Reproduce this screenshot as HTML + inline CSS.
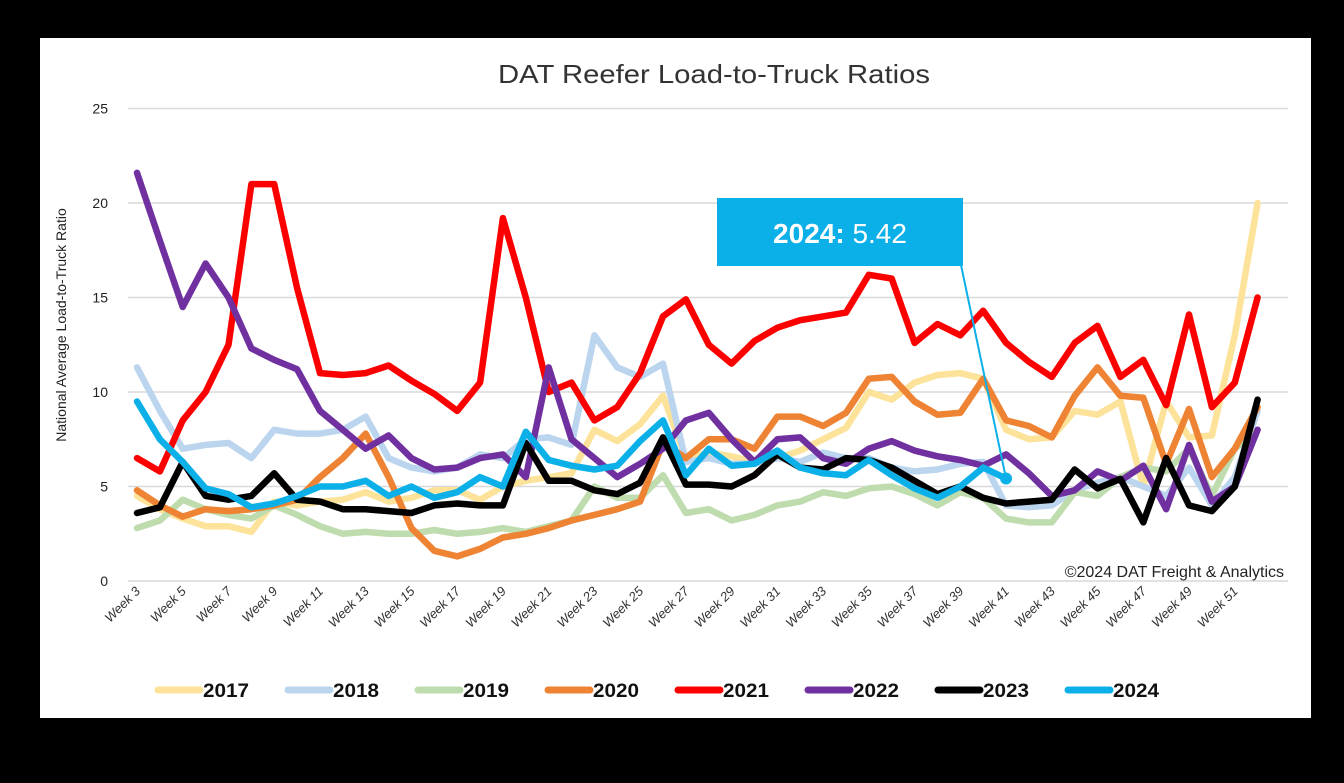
<!DOCTYPE html>
<html><head><meta charset="utf-8"><style>
html,body{margin:0;padding:0;background:#000;}
svg{display:block;}
text{font-family:"Liberation Sans",sans-serif;}
</style></head><body>
<svg id="chart" width="1344" height="783" viewBox="0 0 1344 783">
<rect x="0" y="0" width="1344" height="783" fill="#000"/>
<rect x="40" y="38" width="1271" height="680" fill="#fff"/>
<text x="714" y="83" text-anchor="middle" font-size="26" fill="#333" textLength="432" lengthAdjust="spacingAndGlyphs">DAT Reefer Load-to-Truck Ratios</text>
<g id="grid"></g>
<g id="yticks"></g>
<text transform="translate(66,325) rotate(-90)" text-anchor="middle" font-size="14" fill="#222">National Average Load-to-Truck Ratio</text>
<g id="xticks"></g>
<g id="series"></g>
<text x="1284" y="577" text-anchor="end" font-size="16" fill="#222">©2024 DAT Freight &amp; Analytics</text>
<g id="callout"></g>
<g id="legend"></g>
</svg>
<script>
const weeks = [3,4,5,6,7,8,9,10,11,12,13,14,15,16,17,18,19,20,21,22,23,24,25,26,27,28,29,30,31,32,33,34,35,36,37,38,39,40,41,42,43,44,45,46,47,48,49,50,51,52];
const yTicks = [0,5,10,15,20,25];
const s2017 = [4.5,3.8,3.3,2.9,2.9,2.6,4.2,4.0,4.2,4.3,4.7,4.2,4.4,4.8,4.8,4.3,5.0,5.3,5.5,5.7,8,7.4,8.3,9.8,6.5,6.8,6.6,6.3,6.5,6.9,7.5,8.1,10.0,9.6,10.5,10.9,11.0,10.7,8.0,7.5,7.6,9.0,8.8,9.5,5.0,9.5,7.6,7.7,13,20];
const s2018 = [11.3,9,7.0,7.2,7.3,6.5,8.0,7.8,7.8,8.0,8.7,6.5,6.0,5.8,6.0,6.7,6.5,7.5,7.6,7.2,13,11.3,10.8,11.5,6.3,6.5,6.2,6.2,6.5,6.3,6.8,6.5,6.5,6.0,5.8,5.9,6.2,6.3,4.0,3.9,4.0,4.8,5.2,5.5,5.0,4.5,6.0,4.0,5.5,9.0];
const s2019 = [2.8,3.2,4.3,3.8,3.5,3.3,4.0,3.5,2.9,2.5,2.6,2.5,2.5,2.7,2.5,2.6,2.8,2.6,2.9,3.2,5.0,4.4,4.4,5.6,3.6,3.8,3.2,3.5,4.0,4.2,4.7,4.5,4.9,5.0,4.6,4.0,4.7,4.4,3.3,3.1,3.1,4.7,4.5,5.5,6.0,5.8,7.0,4.5,7.0,8.0];
const s2020 = [4.8,4.0,3.4,3.8,3.7,3.8,4.0,4.3,5.5,6.5,7.8,5.5,2.8,1.6,1.3,1.7,2.3,2.5,2.8,3.2,3.5,3.8,4.2,7.3,6.5,7.5,7.5,7,8.7,8.7,8.2,8.9,10.7,10.8,9.5,8.8,8.9,10.7,8.5,8.2,7.6,9.8,11.3,9.8,9.7,6.2,9.1,5.5,7,9.2];
const s2021 = [6.5,5.8,8.5,10,12.5,21,21,15.5,11,10.9,11,11.4,10.6,9.9,9.0,10.5,19.2,15,10,10.5,8.5,9.2,11,14,14.9,12.5,11.5,12.7,13.4,13.8,14,14.2,16.2,16,12.6,13.6,13,14.3,12.6,11.6,10.8,12.6,13.5,10.8,11.7,9.3,14.1,9.2,10.5,15];
const s2022 = [21.6,18,14.5,16.8,15,12.3,11.7,11.2,9,8,7,7.7,6.5,5.9,6,6.5,6.7,5.5,11.3,7.5,6.5,5.5,6.2,7,8.5,8.9,7.5,6.3,7.5,7.6,6.5,6.2,7,7.4,6.9,6.6,6.4,6.1,6.7,5.7,4.5,4.8,5.8,5.3,6.1,3.8,7.2,4.2,5.0,8.0];
const s2023 = [3.6,3.9,6.3,4.5,4.3,4.5,5.7,4.3,4.2,3.8,3.8,3.7,3.6,4.0,4.1,4.0,4.0,7.3,5.3,5.3,4.8,4.6,5.2,7.6,5.1,5.1,5.0,5.6,6.7,6.0,5.9,6.5,6.4,6.0,5.3,4.6,5.0,4.4,4.1,4.2,4.3,5.9,4.9,5.4,3.1,6.5,4.0,3.7,5.0,9.6];
const s2024 = [9.5,7.5,6.3,4.9,4.6,3.9,4.1,4.5,5.0,5.0,5.3,4.5,5.0,4.4,4.7,5.5,5.0,7.9,6.4,6.1,5.9,6.1,7.4,8.5,5.6,7.0,6.1,6.2,6.9,6.0,5.7,5.6,6.4,5.6,4.9,4.4,5.0,6.0,5.42];
const seriesNames = ["2017","2018","2019","2020","2021","2022","2023","2024"];
const seriesColors = ["#fde29a","#bcd5ee","#bfdcae","#ed8333","#fc0000","#7030a0","#000000","#0cb0e8"];
const seriesData = [s2017,s2018,s2019,s2020,s2021,s2022,s2023,s2024];

const NS="http://www.w3.org/2000/svg";
function xs(w){return 137+(w-3)*22.87;}
function ys(v){return 581-v*18.9;}
function mk(tag,attrs,parent){const e=document.createElementNS(NS,tag);for(const k in attrs)e.setAttribute(k,attrs[k]);parent.appendChild(e);return e;}

const grid=document.getElementById('grid'),yt=document.getElementById('yticks');
yTicks.forEach(t=>{
  const l=mk('line',{x1:128,x2:1288,y1:ys(t),y2:ys(t),stroke:'#d9d9d9','stroke-width':1.5},grid);
  
  
  const tx=mk('text',{x:108,y:ys(t)+5,'text-anchor':'end','font-size':14,fill:'#222'},yt);
  tx.textContent=t;
  
  
});
const xt=document.getElementById('xticks');
weeks.forEach(w=>{
  if(w%2===0)return;
  const x=xs(w)+4,y=592;
  const tx=mk('text',{x:x,y:y,'text-anchor':'end','font-size':13,'font-style':'italic',fill:'#333',transform:`rotate(-45 ${x} ${y})`},xt);
  tx.textContent='Week '+w;
  
  
});
const sg=document.getElementById('series');
seriesData.forEach((d,i)=>{
  const pts=d.map((v,j)=>xs(weeks[j]).toFixed(1)+','+ys(v).toFixed(1)).join(' ');
  const pl=mk('polyline',{points:pts,fill:'none',stroke:seriesColors[i],'stroke-width':6.5,'stroke-linejoin':'round','stroke-linecap':'round'},sg);
  
  
});
const cg=document.getElementById('callout');
const lastI=s2024.length-1;
const px=xs(weeks[lastI]),py=ys(s2024[lastI]);
const ln=mk('line',{x1:961,y1:265,x2:px,y2:py,stroke:'#0cb0e8','stroke-width':2},cg);


const dot=mk('circle',{cx:px,cy:py,r:6,fill:'#0cb0e8'},cg);


const box=mk('rect',{x:717,y:198,width:246,height:68,fill:'#0cb0e8'},cg);


const ct=mk('text',{x:840,y:243,'text-anchor':'middle','font-size':28,fill:'#fff'},cg);
ct.innerHTML='<tspan font-weight="bold">2024:</tspan> '+s2024[lastI].toFixed(2);


const lg=document.getElementById('legend');
seriesNames.forEach((n,i)=>{
  const x0=158+i*130;
  const l=mk('line',{x1:x0,x2:x0+42,y1:690,y2:690,stroke:seriesColors[i],'stroke-width':7,'stroke-linecap':'round'},lg);
  
  
  const t=mk('text',{x:x0+45,y:697,'font-size':19,'font-weight':'bold',fill:'#111',textLength:46,lengthAdjust:'spacingAndGlyphs'},lg);
  t.textContent=n;
  
  
});
</script>
</body></html>
